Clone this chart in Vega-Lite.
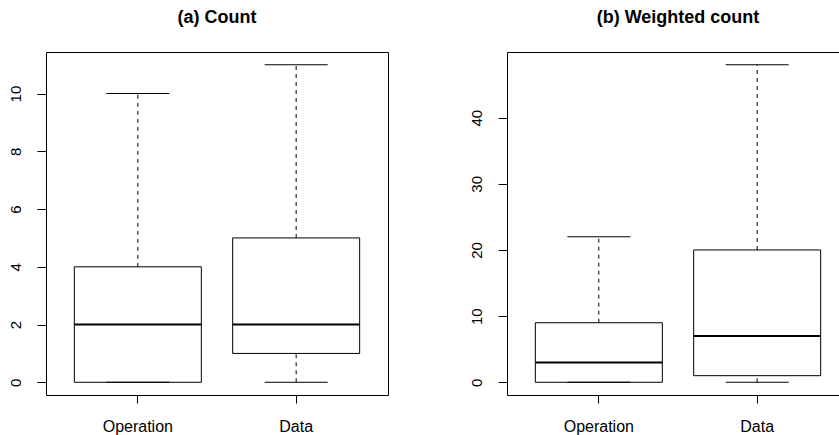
{
  "$schema": "https://vega.github.io/schema/vega-lite/v6.json",
  "padding": {"left": 8, "top": 8, "right": 0, "bottom": 0},
  "background": "white",
  "config": {
    "font": "Liberation Sans",
    "view": {"stroke": "black", "strokeWidth": 1},
    "axis": {"domain": false, "grid": false, "tickColor": "black", "labelColor": "black", "title": null},
    "title": {"fontSize": 18, "fontWeight": "bold", "anchor": "middle", "frame": "group", "baseline": "alphabetic", "offset": 25, "color": "black"},
    "concat": {"spacing": 80}
  },
  "hconcat": [
    {
      "title": "(a) Count",
      "width": 342,
      "height": 343,
      "data": {"values": [
        {"group": "Operation", "min": 0, "q1": 0, "median": 2, "q3": 4, "max": 10},
        {"group": "Data", "min": 0, "q1": 1, "median": 2, "q3": 5, "max": 11}
      ]},
      "encoding": {
        "x": {"field": "group", "type": "nominal", "sort": ["Operation", "Data"],
              "scale": {"paddingInner": 0, "paddingOuter": 0.08},
              "axis": {"labelAngle": 0, "labelFontSize": 16, "tickSize": 8, "labelPadding": 15}}
      },
      "layer": [
        {"mark": {"type": "rule", "strokeDash": [4, 4], "color": "black"},
         "encoding": {"y": {"field": "q3", "type": "quantitative", "scale": {"domain": [-0.44, 11.44], "nice": false, "zero": false},
                            "axis": {"values": [0, 2, 4, 6, 8, 10], "labelAngle": 270, "labelAlign": "center", "labelBaseline": "bottom", "labelFontSize": 15, "tickSize": 9, "labelPadding": 13.5}},
                      "y2": {"field": "max"}}},
        {"mark": {"type": "rule", "strokeDash": [4, 4], "color": "black"},
         "encoding": {"y": {"field": "min", "type": "quantitative", "scale": {"domain": [-0.44, 11.44], "nice": false, "zero": false}},
                      "y2": {"field": "q1"}}},
        {"mark": {"type": "tick", "size": 63, "thickness": 1, "color": "black", "opacity": 1},
         "encoding": {"y": {"field": "max", "type": "quantitative", "scale": {"domain": [-0.44, 11.44], "nice": false, "zero": false}}}},
        {"mark": {"type": "tick", "size": 63, "thickness": 1, "color": "black", "opacity": 1},
         "encoding": {"y": {"field": "min", "type": "quantitative", "scale": {"domain": [-0.44, 11.44], "nice": false, "zero": false}}}},
        {"mark": {"type": "bar", "width": 127, "fill": "transparent", "stroke": "black", "strokeWidth": 1},
         "encoding": {"y": {"field": "q1", "type": "quantitative", "scale": {"domain": [-0.44, 11.44], "nice": false, "zero": false}},
                      "y2": {"field": "q3"}}},
        {"mark": {"type": "tick", "size": 127, "thickness": 2, "color": "black", "opacity": 1},
         "encoding": {"y": {"field": "median", "type": "quantitative", "scale": {"domain": [-0.44, 11.44], "nice": false, "zero": false}}}}
      ]
    },
    {
      "title": "(b) Weighted count",
      "width": 342,
      "height": 343,
      "data": {"values": [
        {"group": "Operation", "min": 0, "q1": 0, "median": 3, "q3": 9, "max": 22},
        {"group": "Data", "min": 0, "q1": 1, "median": 7, "q3": 20, "max": 48}
      ]},
      "encoding": {
        "x": {"field": "group", "type": "nominal", "sort": ["Operation", "Data"],
              "scale": {"paddingInner": 0, "paddingOuter": 0.08},
              "axis": {"labelAngle": 0, "labelFontSize": 16, "tickSize": 8, "labelPadding": 15}}
      },
      "layer": [
        {"mark": {"type": "rule", "strokeDash": [4, 4], "color": "black"},
         "encoding": {"y": {"field": "q3", "type": "quantitative", "scale": {"domain": [-1.92, 49.92], "nice": false, "zero": false},
                            "axis": {"values": [0, 10, 20, 30, 40], "labelAngle": 270, "labelAlign": "center", "labelBaseline": "bottom", "labelFontSize": 15, "tickSize": 9, "labelPadding": 13.5}},
                      "y2": {"field": "max"}}},
        {"mark": {"type": "rule", "strokeDash": [4, 4], "color": "black"},
         "encoding": {"y": {"field": "min", "type": "quantitative", "scale": {"domain": [-1.92, 49.92], "nice": false, "zero": false}},
                      "y2": {"field": "q1"}}},
        {"mark": {"type": "tick", "size": 63, "thickness": 1, "color": "black", "opacity": 1},
         "encoding": {"y": {"field": "max", "type": "quantitative", "scale": {"domain": [-1.92, 49.92], "nice": false, "zero": false}}}},
        {"mark": {"type": "tick", "size": 63, "thickness": 1, "color": "black", "opacity": 1},
         "encoding": {"y": {"field": "min", "type": "quantitative", "scale": {"domain": [-1.92, 49.92], "nice": false, "zero": false}}}},
        {"mark": {"type": "bar", "width": 127, "fill": "transparent", "stroke": "black", "strokeWidth": 1},
         "encoding": {"y": {"field": "q1", "type": "quantitative", "scale": {"domain": [-1.92, 49.92], "nice": false, "zero": false}},
                      "y2": {"field": "q3"}}},
        {"mark": {"type": "tick", "size": 127, "thickness": 2, "color": "black", "opacity": 1},
         "encoding": {"y": {"field": "median", "type": "quantitative", "scale": {"domain": [-1.92, 49.92], "nice": false, "zero": false}}}}
      ]
    }
  ]
}
